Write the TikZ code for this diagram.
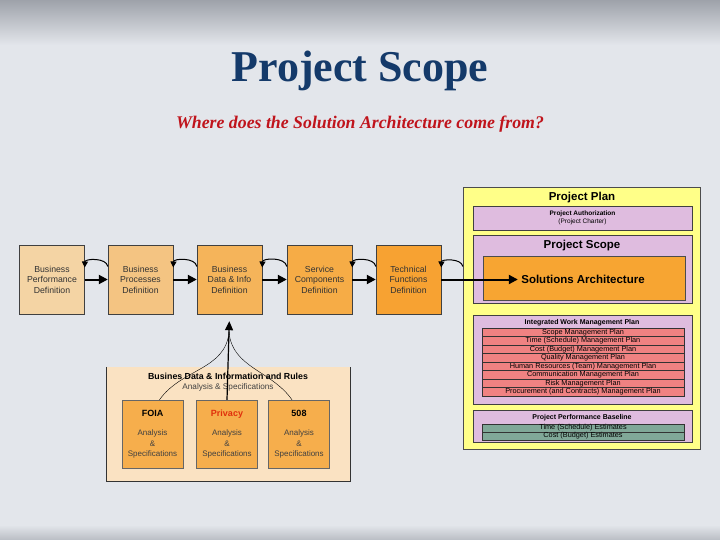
\documentclass[tikz,border=0pt]{standalone}
\usepackage{fontspec}
\setmainfont{Liberation Serif}
\setsansfont{Liberation Sans}
\usetikzlibrary{arrows.meta}
\usetikzlibrary{shapes}

\definecolor{slidebase}{HTML}{E3E6EB}
\definecolor{slideedge}{HTML}{9EA2AA}
\definecolor{titlenavy}{HTML}{143A6A}
\definecolor{subred}{HTML}{C0141C}
\definecolor{defA}{HTML}{F4D4A4}
\definecolor{defB}{HTML}{F4C482}
\definecolor{defC}{HTML}{F5B45A}
\definecolor{defD}{HTML}{F6AC46}
\definecolor{defE}{HTML}{F7A232}
\definecolor{planyellow}{HTML}{FFFF88}
\definecolor{lilac}{HTML}{DFBCDF}
\definecolor{saorange}{HTML}{F7A532}
\definecolor{rowred}{HTML}{F08282}
\definecolor{rowgreen}{HTML}{80A898}
\definecolor{rulespeach}{HTML}{FAE2C2}
\definecolor{specorange}{HTML}{F6AE4C}
\definecolor{privred}{HTML}{E0300C}

\tikzset{
  defbox/.style={draw=black!75, minimum width=65pt, minimum height=69pt, align=center,
    text=black!80, font=\sffamily\fontsize{8.7}{10.5}\selectfont},
  subbox/.style={draw=black!75, fill=lilac, minimum width=219pt},
  rowbox/.style={draw=black!80, minimum width=202pt, inner sep=0pt,
    font=\sffamily\fontsize{7.3}{8}\selectfont},
  specbox/.style={draw=black!60, fill=specorange, minimum width=61pt, minimum height=68pt,
    align=center, text=black!75, font=\sffamily\fontsize{8}{10.5}\selectfont},
  fwd/.style={-{Triangle[length=9pt,width=9pt]}, line width=2pt},
  back/.style={-{Triangle[length=6pt,width=6pt]}, line width=1pt}
}

\begin{document}
\begin{tikzpicture}[x=1pt, y=-1pt]
    \useasboundingbox (0,0) rectangle (720,540);
    \fill [slidebase] (0,0) rectangle (720,540);
    \shade [top color=slideedge, bottom color=slidebase] (0,0) rectangle (720,45);
    \shade [top color=slidebase, bottom color=slideedge!60!slidebase] (0,525) rectangle (720,540);

    \node [font=\bfseries\fontsize{44}{48}\selectfont, text=titlenavy] (title) at (360,71) {Project Scope};
    \node [font=\bfseries\itshape\fontsize{17.8}{20}\selectfont, text=subred] (subtitle) at (360,124) {Where does the Solution Architecture come from?};

    \node [defbox, fill=defA] (perf) at (52,279.5) {Business\\Performance\\Definition};
    \node [defbox, fill=defB] (proc) at (140.5,279.5) {Business\\Processes\\Definition};
    \node [defbox, fill=defC] (data) at (229.5,279.5) {Business\\Data \& Info\\Definition};
    \node [defbox, fill=defD] (serv) at (319.5,279.5) {Service\\Components\\Definition};
    \node [defbox, fill=defE] (tech) at (408.5,279.5) {Technical\\Functions\\Definition};

    \node [draw=black!70, fill=planyellow, minimum width=237pt, minimum height=262pt] (plan) at (581.5,318) {};
    \node [font=\sffamily\bfseries\fontsize{11.5}{13}\selectfont] (plantitle) at (582,198) {Project Plan};
    \node [subbox, minimum height=24pt, align=center, font=\sffamily\fontsize{6.5}{7.5}\selectfont] (auth) at (582.5,218) {\textbf{Project Authorization}\\(Project Charter)};
    \node [subbox, minimum height=68pt] (scope) at (582.5,269) {};
    \node [font=\sffamily\bfseries\fontsize{11.5}{13}\selectfont] (scopetitle) at (582,246) {Project Scope};
    \node [draw=black!70, fill=saorange, minimum width=202pt, minimum height=44pt] (sabox) at (584,278) {};
    \node [font=\sffamily\bfseries\fontsize{11.5}{13}\selectfont] (sa) at (583,279.5) {Solutions Architecture};

    \node [subbox, minimum height=89pt] (iwmp) at (582.5,359.5) {};
    \node [font=\sffamily\bfseries\fontsize{7}{8}\selectfont] (iwmptitle) at (582,323) {Integrated Work Management Plan};
    \foreach \t [count=\i] in {{Scope Management Plan}, {Time (Schedule) Management Plan},
        {Cost (Budget) Management Plan}, {Quality Management Plan},
        {Human Resources (Team) Management Plan}, {Communication Management Plan},
        {Risk Management Plan}, {Procurement (and Contracts) Management Plan}}
        \node [rowbox, fill=rowred, minimum height=8.5pt] (row\i) at (583,{328+(\i-0.5)*8.5}) {\t};

    \node [subbox, minimum height=32pt] (ppb) at (582.5,426) {};
    \node [font=\sffamily\bfseries\fontsize{7}{8}\selectfont] (ppbtitle) at (582,418) {Project Performance Baseline};
    \node [rowbox, fill=rowgreen, minimum height=8pt] (est1) at (583,428) {Time (Schedule) Estimates};
    \node [rowbox, fill=rowgreen, minimum height=8pt] (est2) at (583,436) {Cost (Budget) Estimates};

    \draw [fwd] (perf.east) -- (proc.west);
    \draw [fwd] (proc.east) -- (data.west);
    \draw [fwd] (data.east) -- (serv.west);
    \draw [fwd] (serv.east) -- (tech.west);
    \draw [fwd] (tech.east) -- (sa.west);

    \draw [back] ([yshift=13pt]proc.west) to [bend right=85] ([yshift=12pt]perf.east);
    \draw [back] ([yshift=13pt]data.west) to [bend right=85] ([yshift=12pt]proc.east);
    \draw [back] ([yshift=13pt]serv.west) to [bend right=85] ([yshift=12pt]data.east);
    \draw [back] ([yshift=13pt]tech.west) to [bend right=85] ([yshift=12pt]serv.east);
    \draw [back] (plan.west |- 0,266.5) to [bend right=85] ([yshift=12pt]tech.east);

    \node [fill=rulespeach, minimum width=244pt, minimum height=114pt] (rules) at (228,424) {};
    \draw [black!80] (rules.north west) -- (rules.south west) -- (rules.south east) -- (rules.north east);
    \node [font=\sffamily\bfseries\fontsize{8.8}{10}\selectfont] (rulestitle) at (228,376) {Busines Data \& Information and Rules};
    \node [font=\sffamily\fontsize{8.2}{10}\selectfont, text=black!75] (rulessub) at (228,387) {Analysis \& Specifications};
    \node [specbox] (foia) at (152.5,434) {\textcolor{black}{\bfseries\fontsize{9}{10}\selectfont FOIA}\\[9pt]Analysis\\\&\\Specifications};
    \node [specbox] (privacy) at (227,434) {\textcolor{privred}{\bfseries\fontsize{9}{10}\selectfont Privacy}\\[9pt]Analysis\\\&\\Specifications};
    \node [specbox] (s508) at (299,434) {\textcolor{black}{\bfseries\fontsize{9}{10}\selectfont 508}\\[9pt]Analysis\\\&\\Specifications};

    \coordinate (tip) at (229,332);
    \draw [thin] ([xshift=7pt]foia.north) to [out=55, in=-95] (tip);
    \draw [thin] ([xshift=-7pt]s508.north) to [out=125, in=-85] (tip);
    \draw [-{Triangle[length=9pt,width=8pt]}, line width=1.2pt, shorten >=7pt] (privacy.north) -- (data.south);

\end{tikzpicture}
\end{document}
